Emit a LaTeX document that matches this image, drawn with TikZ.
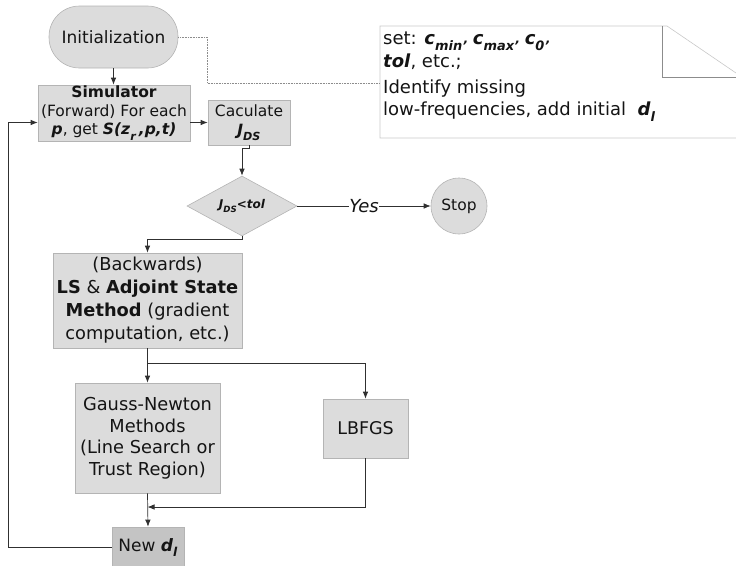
\documentclass[tikz,border=0pt]{standalone}
\usepackage{fontspec}
\usepackage{graphicx}
\setmainfont{DejaVu Sans}
\usetikzlibrary{arrows.meta,shapes.geometric}
\definecolor{boxgray}{HTML}{DCDCDC}
\definecolor{darkbox}{HTML}{C4C4C4}
\definecolor{bordergray}{HTML}{B4B4B4}
\definecolor{linegray}{HTML}{303030}
\definecolor{notegray}{HTML}{C8C8C8}
\definecolor{foldgray}{HTML}{8C8C8C}
\definecolor{txt}{HTML}{141414}
\newcommand\bi[1]{\textbf{\textit{#1}}}
\newcommand\sbs[1]{\raisebox{-0.34em}{\scalebox{0.72}{\bi{#1}}}}
\tikzset{
  box/.style={draw=bordergray, fill=boxgray, line width=0.6pt, inner sep=0pt, align=center, text=txt},
  conn/.style={draw=linegray, line width=0.7pt},
  arr/.style={conn, -{Latex[length=7pt,width=5.5pt]}},
  dotline/.style={draw=foldgray, line width=0.6pt, densely dotted},
  notetext/.style={anchor=base west, inner sep=0pt, text=txt, font=\fontsize{18}{21}\selectfont}
}
\begin{document}
\begin{tikzpicture}[x=1pt,y=1pt]
\useasboundingbox (0,0) rectangle (736,-565);
% note
\draw[notegray, line width=0.6pt] (736,-138) -- (380,-138) -- (380,-26) -- (667,-26) -- (736,-73);
\draw[foldgray, line width=0.6pt] (662,-26) -- (662,-77) -- (736,-77);
\coordinate (notew) at (380,-83);
\coordinate (dj) at (207,-83);
\node[notetext] (n1) at (383,-44) {set: \bi{c}\sbs{min'} \bi{c}\sbs{max'} \bi{c}\sbs{0'}};
\node[notetext] (n2) at (383,-67) {\bi{tol}, etc.;};
\node[notetext] (n3) at (383,-93) {Identify missing};
\node[notetext] (n4) at (383,-115) {low-frequencies, add initial\ \ \bi{d}\sbs{l}};
% nodes
\node[box, rounded corners=30.5pt, minimum width=129pt, minimum height=62pt, font=\fontsize{17}{20}\selectfont] (init) at (113.5,-37) {Initialization};
\node[box, minimum width=152pt, minimum height=56pt, font=\fontsize{15.5}{18.5}\selectfont] (sim) at (114,-113) {\textbf{Simulator}\\(Forward) For each\\\bi{p}, get \bi{S(z}\sbs{r}\,\bi{,p,t)}};
\node[box, minimum width=82pt, minimum height=45pt, font=\fontsize{15.5}{19}\selectfont] (cal) at (249,-122.5) {Caculate\\\bi{J}\sbs{DS}};
\node[box, diamond, aspect=1.83, minimum width=110pt, minimum height=60pt, inner sep=0pt, font=\fontsize{12}{14}\selectfont] (dia) at (242,-206) {\bi{J}\sbs{DS}\bi{<tol}};
\node[box, circle, minimum size=56pt, font=\fontsize{15.5}{18}\selectfont] (stop) at (459,-206) {Stop};
\node[box, minimum width=189pt, minimum height=95pt, font=\fontsize{17.8}{23}\selectfont] (back) at (147.5,-300.5) {(Backwards)\\\textbf{LS} \& \textbf{Adjoint State}\\\textbf{Method} (gradient\\computation, etc.)};
\node[box, minimum width=145pt, minimum height=110pt, font=\fontsize{17.8}{21.5}\selectfont] (gn) at (147.5,-438) {Gauss-Newton\\Methods\\(Line Search or\\Trust Region)};
\node[box, minimum width=85pt, minimum height=59pt, font=\fontsize{17.5}{21}\selectfont] (lb) at (365.5,-428.5) {LBFGS};
\node[box, fill=darkbox, minimum width=72pt, minimum height=41pt, font=\fontsize{17}{20}\selectfont] (new) at (148,-547.5) {New \bi{d}\sbs{l}};
\coordinate (merge) at (147.5,-507);
\coordinate (split) at (147.5,-363);
\coordinate (fbx) at (8,0);
% connectors
\draw[dotline] (init.east) -| (dj) -- (notew);
\draw[arr] (init.south) -- (init.south |- sim.north);
\draw[arr] (sim.east |- cal.west) -- (cal.west);
\draw[arr] (cal.south) -- ++(0,-3) -| (dia.north);
\draw[arr] (dia.east) -- node[fill=white, inner sep=0.6pt, text=txt, font=\fontsize{18}{20}\selectfont\itshape] {Yes} (stop.west);
\draw[arr] (dia.south) -- ++(0,-3) -| (back.north);
\draw[conn] (back.south) -- (split);
\draw[arr] (split) -- (gn.north);
\draw[arr] (split) -| (lb.north);
\draw[arr] (lb.south) |- (merge);
\draw[arr] (gn.south) -- (new.north);
\draw[arr] (new.west) -- (new.west -| fbx) |- (sim.west |- cal.west);
\end{tikzpicture}
\end{document}
